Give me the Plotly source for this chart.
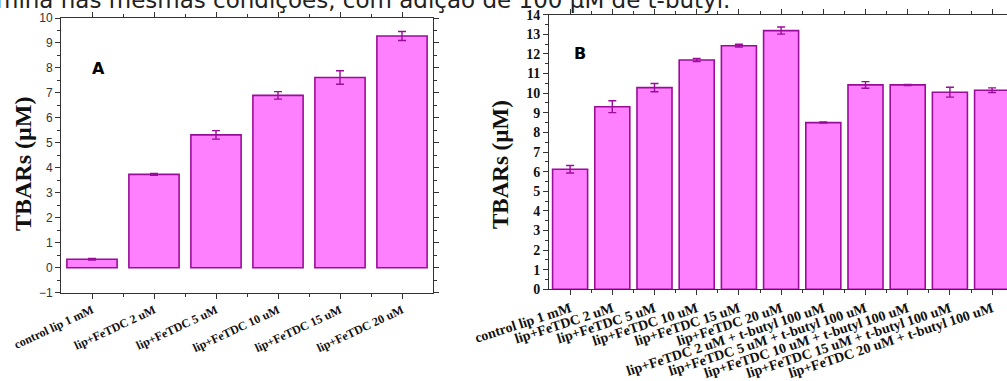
import plotly.graph_objects as go

# ---------------- data ----------------
cats_a = ["control lip 1 mM", "lip+FeTDC 2 uM", "lip+FeTDC 5 uM",
          "lip+FeTDC 10 uM", "lip+FeTDC 15 uM", "lip+FeTDC 20 uM"]
vals_a = [0.34, 3.74, 5.32, 6.90, 7.62, 9.28]
err_a = [0.03, 0.04, 0.17, 0.15, 0.27, 0.18]

cats_b = ["control lip 1 mM", "lip+FeTDC 2 uM", "lip+FeTDC 5 uM",
          "lip+FeTDC 10 uM", "lip+FeTDC 15 uM", "lip+FeTDC 20 uM",
          "lip+FeTDC 2 uM + t-butyl 100 uM", "lip+FeTDC 5 uM + t-butyl 100 uM",
          "lip+FeTDC 10 uM + t-butyl 100 uM", "lip+FeTDC 15 uM + t-butyl 100 uM",
          "lip+FeTDC 20 uM + t-butyl 100 uM"]
vals_b = [6.12, 9.31, 10.28, 11.69, 12.42, 13.19, 8.50, 10.42, 10.42, 10.05, 10.15]
err_b = [0.19, 0.30, 0.21, 0.08, 0.07, 0.18, 0.03, 0.17, 0.03, 0.25, 0.12]

header_text = "mina nas mesmas condições, com adição de 100 µM de t-butyl."

FILL = "#FF80FF"
EDGE = "#9A0C9A"
AX = "#333333"
W, H = 1007, 381

xa = list(range(len(cats_a)))
xb = list(range(len(cats_b)))

fig = go.Figure()
fig.add_trace(go.Bar(
    x=xa, y=vals_a, width=[0.81] * len(xa), xaxis="x", yaxis="y",
    marker=dict(color=FILL, line=dict(color=EDGE, width=1.6)),
    error_y=dict(type="data", array=err_a, visible=True, color=EDGE,
                 thickness=1.4, width=4),
    showlegend=False, hoverinfo="skip"))
fig.add_trace(go.Bar(
    x=xb, y=vals_b, width=[0.83] * len(xb), xaxis="x2", yaxis="y2",
    marker=dict(color=FILL, line=dict(color=EDGE, width=1.6)),
    error_y=dict(type="data", array=err_b, visible=True, color=EDGE,
                 thickness=1.4, width=4),
    showlegend=False, hoverinfo="skip"))

serif_b = "Liberation Serif"


def px(x):
    return x / W


def py(y):
    return 1 - y / H


common = dict(showgrid=False, zeroline=False, fixedrange=True, automargin=False,
              showline=True, linecolor=AX, linewidth=1, tickcolor=AX,
              ticks="outside", ticklen=5)

fig.update_layout(
    width=W, height=H,
    margin=dict(l=0, r=0, t=0, b=0, autoexpand=False),
    paper_bgcolor="white", plot_bgcolor="white",
    xaxis=dict(domain=[px(61), px(433)], anchor="y", range=[-0.5, 5.5],
               tickmode="array", tickvals=xa, ticktext=["<b>%s</b>" % c for c in cats_a],
               tickangle=-25, tickfont=dict(family=serif_b, size=12, color="#111"),
               minor=dict(tickvals=[i + 0.5 for i in xa[:-1]], ticks="outside",
                          ticklen=3, tickcolor=AX),
               mirror="ticks", **common),
    yaxis=dict(domain=[py(292.7), py(18)], anchor="x", range=[-1, 10],
               tickmode="linear", tick0=-1, dtick=1,
               tickfont=dict(family="Liberation Sans", size=12, color="#333"),
               minor=dict(dtick=0.5, tick0=-1, ticks="outside", ticklen=3, tickcolor=AX),
               mirror="ticks", **common),
    xaxis2=dict(domain=[px(549), 1.0], anchor="y2", range=[-0.5, 10.353],
                tickmode="array", tickvals=xb, ticktext=["<b>%s</b>" % c for c in cats_b],
                tickangle=-18, tickfont=dict(family=serif_b, size=14, color="#111"),
                minor=dict(tickvals=[i + 0.5 for i in xb[:-1]], ticks="outside",
                           ticklen=3, tickcolor=AX),
                mirror="ticks", **common),
    yaxis2=dict(domain=[py(289.3), py(14.7)], anchor="x2", range=[0, 14],
                tickmode="linear", tick0=0, dtick=1,
                tickfont=dict(family=serif_b, size=14, color="#111"),
                tickprefix="<b>", ticksuffix="</b>",
                minor=dict(dtick=0.5, tick0=0, ticks="outside", ticklen=3, tickcolor=AX),
                mirror=False, **common),
)

annots = [
    dict(text="<b>TBARs (µM)</b>", x=px(23), y=py(164), textangle=-90,
         font=dict(family=serif_b, size=24, color="#111")),
    dict(text="<b>TBARs (µM)</b>", x=px(500), y=py(165), textangle=-90,
         font=dict(family=serif_b, size=23, color="#111")),
    dict(text="<b>A</b>", x=px(98), y=py(68),
         font=dict(family="DejaVu Sans", size=16, color="black")),
    dict(text="<b>B</b>", x=px(580), y=py(54),
         font=dict(family="DejaVu Sans", size=16, color="black")),
    dict(text=header_text, x=px(-6), y=py(15), xanchor="left", yanchor="bottom",
         font=dict(family="DejaVu Sans", size=23, color="#222")),
]
for a in annots:
    a.setdefault("xanchor", "center")
    a.setdefault("yanchor", "middle")
    fig.add_annotation(xref="paper", yref="paper", showarrow=False, **a)

fig.write_html(
    "out.html",
    config={"displayModeBar": False},
    post_script="document.body.style.margin='0';document.body.style.overflow='hidden';",
)
